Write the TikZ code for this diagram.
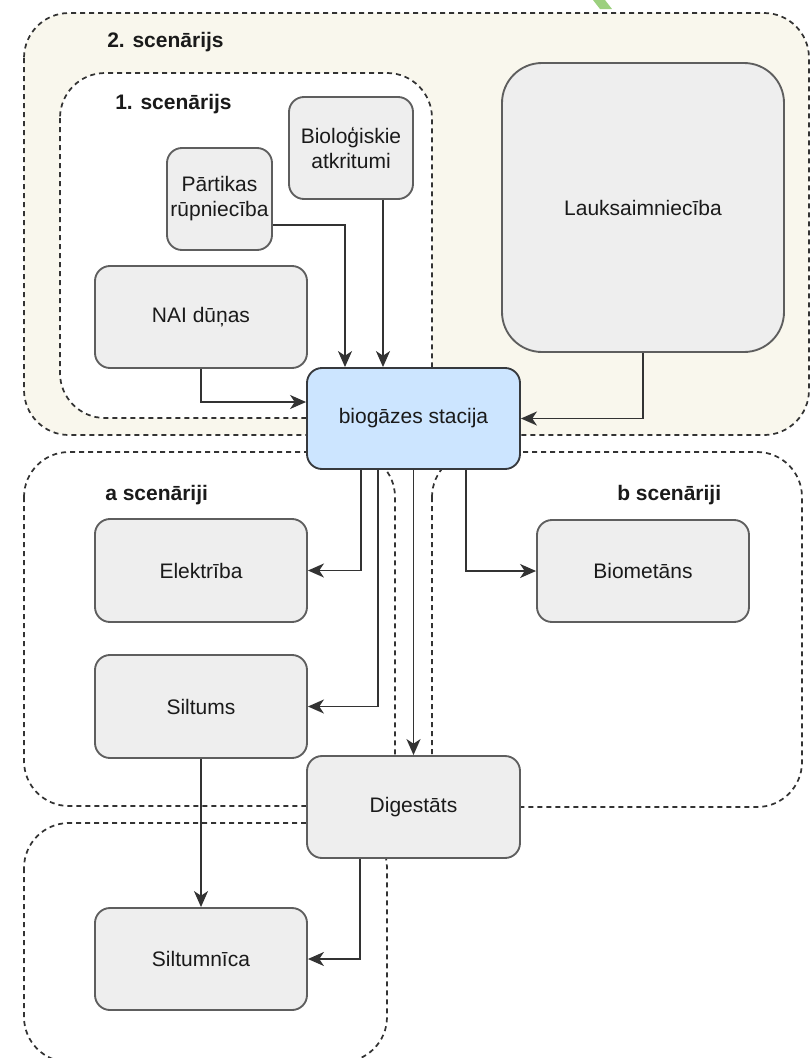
\documentclass[tikz,border=0pt]{standalone}
\usepackage{fontspec}
\setmainfont{Liberation Sans}
\usetikzlibrary{arrows.meta}

\definecolor{beige}{HTML}{F9F7ED}
\definecolor{boxfill}{HTML}{EEEEEE}
\definecolor{boxline}{HTML}{5E5E5E}
\definecolor{hubfill}{HTML}{CCE5FF}
\definecolor{hubline}{HTML}{36393D}
\definecolor{wire}{HTML}{333333}
\definecolor{txt}{HTML}{1A1A1A}
\definecolor{leaf}{HTML}{9CD07E}

\tikzset{
  region/.style={draw=wire, line width=1.3pt, dash pattern=on 3.75pt off 3pt, rounded corners=33.75pt},
  box/.style={draw=boxline, fill=boxfill, line width=1.4pt, rounded corners=11.25pt, align=center, inner sep=0pt},
  hub/.style={box, draw=hubline, fill=hubfill},
  title/.style={anchor=west, font=\fontsize{15.75}{18.75}\selectfont\bfseries, inner sep=0pt},
  flow/.style={draw=wire, line width=1.4pt, -{Stealth[length=12pt, width=10.5pt, inset=3.5pt]}}
}

\begin{document}
\begin{tikzpicture}[x=0.75pt, y=-0.75pt, font=\fontsize{15.75}{18.75}\selectfont, text=txt]
\useasboundingbox (0,0) rectangle (810,1058);

% scenario areas
\draw[region, fill=beige] (24,13) rectangle (809,435);
\draw[region, fill=white] (60,73) rectangle (432,418);
\draw[region] (24,452) rectangle (395,806);
\draw[region] (432,452) rectangle (802,807);
\draw[region] (24,823) rectangle (387,1062);
\fill[leaf] (593,0) -- (605,0) -- (612,9) -- (600,9) -- cycle;

\node[title] (sc2) at (107,42) {2. scenārijs};
\node[title] (sc1) at (115,104) {1. scenārijs};
\node[title] (sca) at (105,495) {a scenāriji};
\node[title] (scb) at (617,495) {b scenāriji};

% sources
\node[box, minimum width=93pt, minimum height=76.5pt] (bioatk) at (351,148) {Bioloģiskie\\atkritumi};
\node[box, minimum width=78.75pt, minimum height=76.5pt] (partika) at (219.5,199) {Pārtikas\\rūpniecība};
\node[box, minimum width=159pt, minimum height=76.5pt] (nai) at (201,317) {NAI dūņas};
\node[box, minimum width=211.5pt, minimum height=216.75pt, rounded corners=30pt] (lauks) at (643,207.5) {Lauksaimniecība};

% plant
\node[hub, minimum width=159.75pt, minimum height=75.75pt] (bio) at (413.5,418.5) {biogāzes stacija};

% products
\node[box, minimum width=159pt, minimum height=77.25pt] (elektr) at (201,570.5) {Elektrība};
\node[box, minimum width=159pt, minimum height=77.25pt] (siltums) at (201,706.5) {Siltums};
\node[box, minimum width=159pt, minimum height=76.5pt] (biomet) at (643,571) {Biometāns};
\node[box, minimum width=159.75pt, minimum height=76.5pt] (digest) at (413.5,807) {Digestāts};
\node[box, minimum width=159pt, minimum height=76.5pt] (siltn) at (201,959) {Siltumnīca};

% flows
\draw[flow] (partika.east |- 0,225) -| (bio.north -| 345,0);
\draw[flow] (bioatk.south -| 383,0) -- (bio.north -| 383,0);
\draw[flow] (nai.south) |- (bio.west |- 0,402);
\draw[flow] (lauks.south) |- (bio.east);
\draw[flow] (bio.south -| 361,0) |- (elektr.east);
\draw[flow] (bio.south -| 378,0) |- (siltums.east);
\draw[flow] (bio.south) -- (digest.north);
\draw[flow] (bio.south -| 466,0) |- (biomet.west);
\draw[flow] (siltums.south) -- (siltn.north);
\draw[flow] (digest.south -| 360,0) |- (siltn.east);
\end{tikzpicture}
\end{document}
